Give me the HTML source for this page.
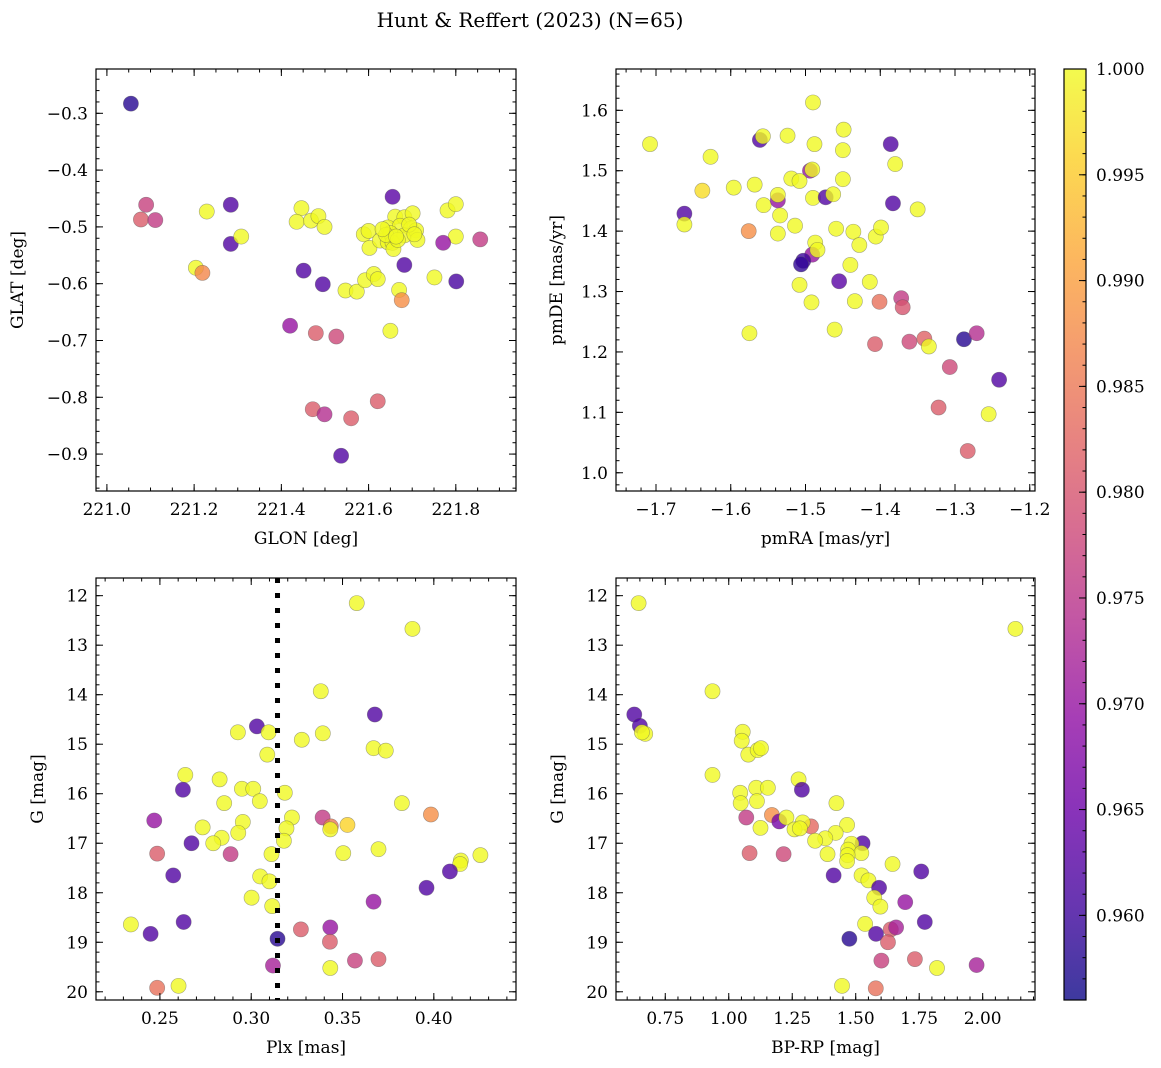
<!DOCTYPE html>
<html><head><meta charset="utf-8">
<style>
html,body{margin:0;padding:0;background:#fff;}
svg{display:block;font-family:"DejaVu Serif","Liberation Serif",serif;}
</style></head>
<body>
<svg id="fig" width="1161" height="1068" viewBox="0 0 1161 1068" xmlns="http://www.w3.org/2000/svg">
<defs>
<linearGradient id="cbgrad" x1="0" y1="1" x2="0" y2="0">
<stop offset="0" stop-color="#0d0887"/><stop offset="0.1" stop-color="#41049d"/><stop offset="0.2" stop-color="#6a00a8"/><stop offset="0.3" stop-color="#8f0da4"/><stop offset="0.4" stop-color="#b12a90"/><stop offset="0.5" stop-color="#cc4778"/><stop offset="0.6" stop-color="#e16462"/><stop offset="0.7" stop-color="#f2844b"/><stop offset="0.8" stop-color="#fca636"/><stop offset="0.9" stop-color="#fcce25"/><stop offset="1" stop-color="#f0f921"/>
</linearGradient>
</defs>
<text x="530" y="27" font-size="20" text-anchor="middle">Hunt &amp; Reffert (2023) (N=65)</text>
</svg>
<script>
// ---- data: panel 1 (GLON vs GLAT)
const glon = [221.055,221.090,221.078,221.111,221.229,221.284,221.284,221.308,221.204,221.219,221.446,221.435,221.468,221.485,221.499,221.451,221.495,221.420,221.479,221.526,221.472,221.499,221.560,221.621,221.537,221.547,221.573,221.592,221.612,221.621,221.589,221.600,221.602,221.626,221.644,221.655,221.661,221.682,221.701,221.644,221.672,221.697,221.650,221.682,221.709,221.712,221.655,221.657,221.682,221.670,221.676,221.650,221.781,221.800,221.800,221.771,221.751,221.801,221.856,221.640,221.667,221.693,221.663,221.705,221.632];
const glat = [-0.283,-0.461,-0.487,-0.488,-0.473,-0.461,-0.530,-0.517,-0.572,-0.581,-0.467,-0.491,-0.489,-0.481,-0.500,-0.577,-0.601,-0.674,-0.687,-0.693,-0.821,-0.830,-0.837,-0.807,-0.903,-0.612,-0.614,-0.594,-0.583,-0.592,-0.513,-0.507,-0.537,-0.524,-0.527,-0.447,-0.482,-0.483,-0.476,-0.501,-0.498,-0.503,-0.511,-0.515,-0.506,-0.523,-0.528,-0.539,-0.567,-0.611,-0.629,-0.683,-0.471,-0.460,-0.517,-0.528,-0.589,-0.596,-0.522,-0.514,-0.523,-0.496,-0.517,-0.513,-0.504];
const probA = [0.958,0.977,0.981,0.976,1,0.962,0.962,1,1,0.987,1,1,1,1,1,0.962,0.962,0.970,0.981,0.978,0.981,0.974,0.981,0.981,0.962,1,1,1,1,1,1,1,1,1,1,0.963,1,1,1,1,1,1,1,1,1,1,1,1,0.962,1,0.988,1,1,1,1,0.970,1,0.961,0.976,1,1,1,1,1,1];
// ---- data: panel 2 (pmRA vs pmDE)
const pmra = [-1.708,-1.627,-1.638,-1.662,-1.662,-1.596,-1.568,-1.576,-1.575,-1.561,-1.557,-1.556,-1.524,-1.490,-1.488,-1.494,-1.491,-1.519,-1.508,-1.537,-1.537,-1.534,-1.537,-1.514,-1.490,-1.473,-1.463,-1.449,-1.450,-1.450,-1.459,-1.436,-1.428,-1.440,-1.487,-1.491,-1.484,-1.503,-1.506,-1.508,-1.455,-1.492,-1.434,-1.461,-1.414,-1.406,-1.399,-1.386,-1.380,-1.383,-1.350,-1.401,-1.372,-1.370,-1.407,-1.361,-1.341,-1.335,-1.307,-1.288,-1.271,-1.241,-1.322,-1.255,-1.283];
const pmde = [1.544,1.523,1.467,1.429,1.411,1.472,1.477,1.400,1.231,1.551,1.557,1.443,1.558,1.613,1.544,1.500,1.502,1.487,1.483,1.451,1.460,1.426,1.396,1.409,1.455,1.456,1.461,1.568,1.534,1.486,1.404,1.399,1.377,1.344,1.381,1.361,1.369,1.351,1.345,1.311,1.317,1.282,1.284,1.237,1.316,1.391,1.406,1.544,1.511,1.446,1.436,1.283,1.289,1.274,1.213,1.217,1.222,1.209,1.175,1.221,1.231,1.154,1.108,1.097,1.036];
const probB = [1,1,0.997,0.962,1,1,1,0.988,1,0.962,1,1,1,1,1,0.970,1,1,1,0.970,1,1,1,1,1,0.962,1,1,1,1,1,1,1,1,1,0.970,1,0.960,0.959,1,0.963,1,1,1,1,1,1,0.962,1,0.962,1,0.984,0.976,0.980,0.981,0.978,0.982,1,0.978,0.958,0.974,0.962,0.981,1,0.981];
// ---- data: panel 3 (Plx vs G)
const plx = [0.3578,0.3883,0.3381,0.3677,0.3031,0.2927,0.3095,0.3392,0.3277,0.3088,0.3670,0.3737,0.2639,0.2626,0.2827,0.2949,0.3011,0.3184,0.3047,0.2852,0.3825,0.3984,0.3223,0.3391,0.3436,0.3433,0.3527,0.2469,0.2954,0.2734,0.2929,0.3193,0.2838,0.2792,0.3179,0.2673,0.2485,0.2887,0.3111,0.3504,0.3697,0.4148,0.4144,0.4255,0.4088,0.2573,0.3049,0.3100,0.3960,0.3002,0.3670,0.3115,0.2341,0.2630,0.2449,0.3144,0.3272,0.3433,0.3431,0.3119,0.3433,0.3568,0.3697,0.2485,0.2602];
const gmagA = [12.15,12.67,13.93,14.40,14.64,14.76,14.76,14.78,14.91,15.21,15.08,15.13,15.62,15.92,15.71,15.90,15.90,15.98,16.15,16.19,16.19,16.42,16.48,16.48,16.66,16.72,16.63,16.54,16.57,16.68,16.79,16.70,16.89,17.00,16.95,17.00,17.21,17.22,17.22,17.20,17.12,17.35,17.42,17.24,17.57,17.65,17.67,17.77,17.90,18.10,18.18,18.27,18.64,18.59,18.83,18.93,18.74,18.70,18.99,19.47,19.52,19.37,19.34,19.92,19.88];
const probC = [1,1,1,0.962,0.962,1,1,1,1,1,1,1,1,0.962,1,1,1,1,1,1,1,0.988,1,0.976,0.985,1,0.996,0.970,1,1,1,1,1,1,1,0.962,0.981,0.976,1,1,1,1,1,1,0.962,0.962,1,1,0.962,1,0.970,1,1,0.962,0.962,0.958,0.981,0.970,0.981,0.972,1,0.977,0.981,0.984,1];
// ---- data: panel 4 (BP-RP vs G)
const bprp = [0.645,2.129,0.936,0.628,0.650,0.671,0.658,1.055,1.051,1.077,1.114,1.127,0.936,1.275,1.288,1.045,1.108,1.154,1.047,1.111,1.424,1.170,1.069,1.199,1.227,1.324,1.291,1.125,1.259,1.280,1.466,1.421,1.380,1.340,1.527,1.483,1.470,1.522,1.389,1.468,1.466,1.082,1.216,1.645,1.758,1.413,1.523,1.550,1.592,1.573,1.695,1.597,1.537,1.772,1.580,1.475,1.638,1.659,1.627,1.976,1.820,1.601,1.733,1.579,1.446];
const gmagB = [12.15,12.67,13.93,14.40,14.63,14.79,14.76,14.75,14.93,15.21,15.12,15.08,15.62,15.71,15.92,15.98,15.88,15.88,16.19,16.15,16.19,16.43,16.48,16.56,16.48,16.66,16.58,16.69,16.72,16.70,16.63,16.79,16.90,16.95,17.00,17.01,17.13,17.20,17.22,17.24,17.36,17.20,17.22,17.42,17.57,17.65,17.65,17.75,17.90,18.10,18.19,18.28,18.63,18.59,18.83,18.93,18.74,18.70,19.00,19.46,19.52,19.37,19.34,19.93,19.88];
const probD = [1,1,1,0.962,0.962,1,1,1,1,1,1,1,1,1,0.962,1,1,1,1,1,1,0.988,0.976,0.966,1,0.983,1,1,1,1,1,1,1,1,0.962,1,1,1,1,1,1,0.981,0.978,1,0.962,0.962,1,1,0.962,1,0.970,1,1,0.962,0.962,0.958,0.981,0.972,0.981,0.972,1,0.977,0.981,0.984,1];
const plxCut = 0.3144;
const cbTicks = [0.960,0.965,0.970,0.975,0.980,0.985,0.990,0.995,1.000];
const VMIN = 0.956, VMAX = 1.0;

const NS = "http://www.w3.org/2000/svg";
const svg = document.getElementById('fig');
const stops = [[13,8,135],[65,4,157],[106,0,168],[143,13,164],[177,42,144],[204,71,120],[225,100,98],[242,132,75],[252,166,54],[252,206,37],[240,249,33]];
function plasma(p){
  let t = Math.max(0, Math.min(1, (p - VMIN) / (VMAX - VMIN))) * 10;
  let i = Math.min(9, Math.floor(t)), f = t - i;
  const a = stops[i], b = stops[i+1];
  return 'rgb(' + [0,1,2].map(k => Math.round(a[k] + (b[k]-a[k])*f)).join(',') + ')';
}
function el(tag, attrs, parent){
  const e = document.createElementNS(NS, tag);
  for (const k in attrs) e.setAttribute(k, attrs[k]);
  (parent || svg).appendChild(e);
  return e;
}
function lin(d0, d1, r0, r1){ return v => r0 + (v - d0) / (d1 - d0) * (r1 - r0); }
function fmt(v, dec){ const s = v.toFixed(dec); return s.replace('-', '\u2212'); }

function panel(cfg){
  const g = el('g', {});
  
  
  const {x0, x1, y0, y1} = cfg;
  const sx = lin(cfg.xd[0], cfg.xd[1], x0, x1);
  const sy = lin(cfg.yd[0], cfg.yd[1], y1, y0);
  const pg = el('g', {}, g);
  
  
  for (let i = 0; i < cfg.xs.length; i++){
    const c = el('circle', {cx: sx(cfg.xs[i]), cy: sy(cfg.ys[i]), r: 7.6, fill: plasma(cfg.ps[i]), 'fill-opacity': 0.8, stroke: '#555', 'stroke-opacity': 0.5, 'stroke-width': 0.6}, pg);
    
    
  }
  if (cfg.extra) cfg.extra(g, sx, sy);
  const fr = el('rect', {x: x0, y: y0, width: x1-x0, height: y1-y0, fill: 'none', stroke: '#000', 'stroke-width': 1.2}, g);
  
  
  function ticks(lo, hi, step, len, isX, labels, dec){
    const n0 = Math.ceil((lo) / step - 1e-6), n1 = Math.floor((hi) / step + 1e-6);
    for (let n = n0; n <= n1; n++){
      const v = n * step;
      if (isX){
        const X = sx(v); if (X < x0 || X > x1) continue;
        el('line', {x1: X, x2: X, y1: y1, y2: y1 - len, stroke: '#000', 'stroke-width': 1}, g);
        el('line', {x1: X, x2: X, y1: y0, y2: y0 + len, stroke: '#000', 'stroke-width': 1}, g);
        if (labels){
          const t = el('text', {x: X, y: y1 + 24, 'font-size': 17, 'text-anchor': 'middle'}, g);
          t.textContent = fmt(v, dec);
          
          
        }
      } else {
        const Y = sy(v); if (Y < y0 - 0.5 || Y > y1 + 0.5) continue;
        el('line', {x1: x0, x2: x0 + len, y1: Y, y2: Y, stroke: '#000', 'stroke-width': 1}, g);
        el('line', {x1: x1, x2: x1 - len, y1: Y, y2: Y, stroke: '#000', 'stroke-width': 1}, g);
        if (labels){
          const t = el('text', {x: x0 - 8, y: Y + 6, 'font-size': 17, 'text-anchor': 'end'}, g);
          t.textContent = fmt(v, dec);
          
          
        }
      }
    }
  }
  const xlo = Math.min(cfg.xd[0], cfg.xd[1]), xhi = Math.max(cfg.xd[0], cfg.xd[1]);
  const ylo = Math.min(cfg.yd[0], cfg.yd[1]), yhi = Math.max(cfg.yd[0], cfg.yd[1]);
  ticks(xlo, xhi, cfg.xminor, 3.5, true, false);
  ticks(xlo, xhi, cfg.xmajor, 7, true, true, cfg.xdec);
  ticks(ylo, yhi, cfg.yminor, 3.5, false, false);
  ticks(ylo, yhi, cfg.ymajor, 7, false, true, cfg.ydec);
  const xl = el('text', {x: (x0+x1)/2, y: y1 + 53, 'font-size': 17, 'text-anchor': 'middle'}, g);
  xl.textContent = cfg.xlabel;
  
  
  const yl = el('text', {x: 0, y: 0, 'font-size': 17, 'text-anchor': 'middle', transform: 'translate(' + cfg.ylx + ',' + ((y0+y1)/2) + ') rotate(-90)'}, g);
  yl.textContent = cfg.ylabel;
  
  
}

panel({name:'panel-glon-glat', x0:96, x1:516, y0:69, y1:491,
  xd:[220.975, 221.938], yd:[-0.965, -0.222],
  xs:glon, ys:glat, ps:probA, xmajor:0.2, xminor:0.05, ymajor:0.1, yminor:0.02, xdec:1, ydec:1,
  xlabel:'GLON [deg]', ylabel:'GLAT [deg]', ylx:23});
panel({name:'panel-pmra-pmde', x0:616, x1:1035, y0:69, y1:491,
  xd:[-1.7535, -1.193], yd:[0.9698, 1.6684],
  xs:pmra, ys:pmde, ps:probB, xmajor:0.1, xminor:0.02, ymajor:0.1, yminor:0.02, xdec:1, ydec:1,
  xlabel:'pmRA [mas/yr]', ylabel:'pmDE [mas/yr]', ylx:562});
panel({name:'panel-plx-g', x0:96, x1:516, y0:578, y1:1000,
  xd:[0.215, 0.445], yd:[20.166, 11.643],
  xs:plx, ys:gmagA, ps:probC, xmajor:0.05, xminor:0.01, ymajor:1, yminor:0.2, xdec:2, ydec:0,
  xlabel:'Plx [mas]', ylabel:'G [mag]', ylx:43,
  extra:(g, sx, sy) => {
    const l = el('line', {x1: sx(plxCut), x2: sx(plxCut), y1: 578, y2: 1000, stroke: '#000', 'stroke-width': 5, 'stroke-dasharray': '5,10'}, g);
    
    
  }});
panel({name:'panel-bprp-g', x0:616, x1:1035, y0:578, y1:1000,
  xd:[0.556, 2.206], yd:[20.166, 11.643],
  xs:bprp, ys:gmagB, ps:probD, xmajor:0.25, xminor:0.05, ymajor:1, yminor:0.2, xdec:2, ydec:0,
  xlabel:'BP-RP [mag]', ylabel:'G [mag]', ylx:563});

const cb = el('g', {});


const cby = lin(VMIN, VMAX, 1000, 69);
el('rect', {x: 1064, y: 69, width: 22, height: 931, fill: 'url(#cbgrad)', 'fill-opacity': 0.8}, cb);
el('rect', {x: 1064, y: 69, width: 22, height: 931, fill: 'none', stroke: '#000', 'stroke-width': 1.2}, cb);
for (let v = 0.957; v <= 1.0005; v += 0.001){
  const Y = cby(v);
  el('line', {x1: 1086, x2: 1082.5, y1: Y, y2: Y, stroke: '#000', 'stroke-width': 1}, cb);
}
cbTicks.forEach(v => {
  const Y = cby(v);
  el('line', {x1: 1086, x2: 1079, y1: Y, y2: Y, stroke: '#000', 'stroke-width': 1}, cb);
  const t = el('text', {x: 1096, y: Y + 6, 'font-size': 17}, cb);
  t.textContent = v.toFixed(3);
  
  
});
</script>
</body></html>
